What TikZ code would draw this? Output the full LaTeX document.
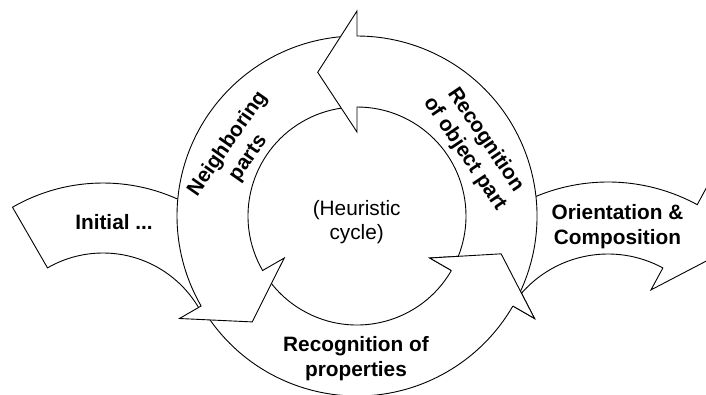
\documentclass[tikz,border=0pt]{standalone}
\usepackage{fontspec}
\setmainfont{Liberation Sans}
\begin{document}
\begin{tikzpicture}[x=1pt,y=1pt,
  band/.style={draw=black, fill=white, line width=0.9pt, line join=miter},
  lbl/.style={font=\fontsize{20.8}{25}\selectfont\bfseries, align=center, inner sep=0pt},
  lblr/.style={font=\fontsize{20.8}{23.5}\selectfont, align=center, inner sep=0pt}]
\useasboundingbox (0,0) rectangle (706,-394);
\clip (0,0) rectangle (706,-394);
% entry arrow
\begin{scope}[shift={(103,-364)}]
\draw[band] (120:181) arc[start angle=120,end angle=28,radius=181] -- (28:111)
  arc[start angle=28,end angle=120,radius=111] -- cycle;
\end{scope}
% exit arrow
\begin{scope}[shift={(608,-369)}]
\draw[band] (140:187) arc[start angle=140,end angle=61.5,radius=187] -- (61.5:212)
  -- (47:151) -- (61.5:90) -- (61.5:115) arc[start angle=61.5,end angle=140,radius=115] -- cycle;
\end{scope}
% cycle arrows
\begin{scope}[shift={(357,-216)}]
\foreach \t/\b in {212/330, 92/210, -28/90} {
  \draw[band] (\t:180) arc[start angle=\t,end angle=\b,radius=180] -- (\b:205)
    -- ({\b+15.3}:149) -- (\b:84) -- (\b:109) arc[start angle=\b,end angle=\t,radius=109] -- cycle;
}
\fill[white] (330:84) -- (330:205) -- (345.3:149) -- cycle;
\draw[band, fill=none] (330:180) -- (330:205) -- (345.3:149) -- (330:84) -- (330:109);
\end{scope}
% labels
\node[lbl] (init) at (114,-221.7) {Initial ...};
\node[lblr] (heur) at (356.7,-222) {(Heuristic\\cycle)};
\node[lbl] (orient) at (617.5,-226.6) {Orientation \&\\Composition};
\node[lbl] (prop) at (356,-358.8) {Recognition of\\properties};
\node[lbl, rotate=55] (neigh) at (238,-151) {Neighboring\\parts};
\node[lbl, rotate=-56] (objpart) at (475,-147) {Recognition\\of object part};
\end{tikzpicture}
\end{document}
